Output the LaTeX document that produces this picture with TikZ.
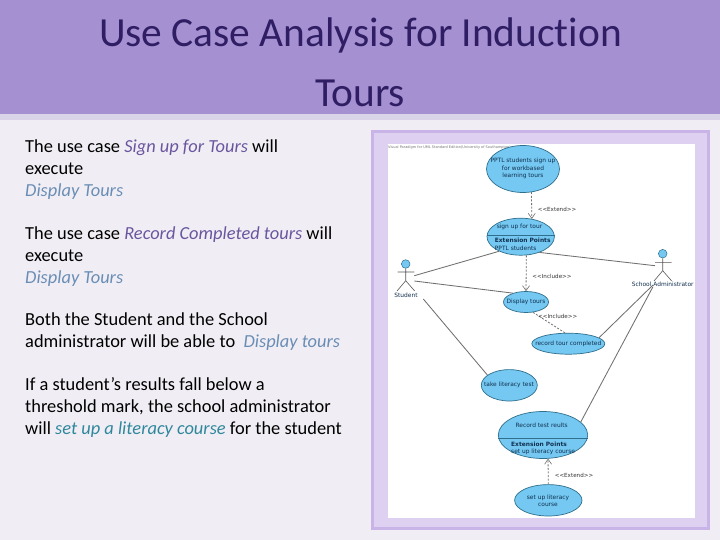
\documentclass[tikz,border=0pt]{standalone}
\usepackage{fontspec}
\setmainfont[Ligatures=NoCommon]{Carlito}
\newfontfamily\umlfont{DejaVu Sans}
\usetikzlibrary{shapes.geometric,arrows.meta}
\definecolor{pagebg}{HTML}{F0EEF4}
\definecolor{bandc}{HTML}{A591D2}
\definecolor{bandedge}{HTML}{DAD4E8}
\definecolor{titlec}{HTML}{2F1E64}
\definecolor{framefill}{HTML}{DDD0F0}
\definecolor{frameline}{HTML}{C8B4E6}
\definecolor{ucfill}{HTML}{74C8F2}
\definecolor{ucline}{HTML}{2F6F8C}
\definecolor{umltext}{HTML}{12304F}
\definecolor{linkc}{HTML}{707070}
\definecolor{purpc}{HTML}{6A569F}
\definecolor{bluec}{HTML}{6A8DB5}
\definecolor{tealc}{HTML}{2F879C}
\tikzset{
  titletext/.style={font=\fontsize{41.4}{41.4}\selectfont,text=titlec,inner sep=0pt},
  para/.style={anchor=north west,inner sep=0pt,align=left,text=black,font=\fontsize{18.4}{21.7}\selectfont},
  uc/.style={ellipse,draw=ucline,fill=ucfill,line width=.7pt,inner sep=0pt},
  umllabel/.style={font=\umlfont\fontsize{5.9}{7.3}\selectfont,text=umltext,inner sep=0pt,align=center},
  stereo/.style={font=\umlfont\fontsize{5.6}{7}\selectfont,text=black!80,inner sep=0pt},
  assoc/.style={draw=linkc,line width=.85pt},
  dep/.style={draw=linkc,line width=.8pt,dash pattern=on 2pt off 1.6pt},
  deptip/.style={dep,-{Straight Barb[length=5pt,width=7pt,line width=.6pt]}},
  actorline/.style={draw=black!65,line width=.6pt},
  divider/.style={draw=ucline,line width=.7pt}
}
\begin{document}
\begin{tikzpicture}[x=1pt,y=-1pt]
\useasboundingbox (0,0) rectangle (720,540);
\fill[pagebg] (0,0) rectangle (720,540);
\fill[bandedge] (0,112) rectangle (720,120);
\fill[bandc] (0,0) rectangle (720,114);
\node[titletext] (title1) at (360.5,35) {Use Case Analysis for Induction};
\node[titletext] (title2) at (360,93) {Tours};
\node[para] (p1) at (25,140) {The use case \textcolor{purpc}{\textit{Sign up for Tours}} will\\execute\\\textcolor{bluec}{\textit{Display Tours}}};
\node[para] (p2) at (25,227) {The use case \textcolor{purpc}{\textit{Record Completed tours}} will\\execute\\\textcolor{bluec}{\textit{Display Tours}}};
\node[para] (p3) at (25,313) {Both the Student and the School\\administrator will be able to \ \textcolor{bluec}{\textit{Display tours}}};
\node[para] (p4) at (25,377.5) {If a student’s results fall below a\\threshold mark, the school administrator\\will \textcolor{tealc}{\textit{set up a literacy course}} for the student};
% frame
\filldraw[fill=framefill,draw=frameline,line width=3pt] (372,132) rectangle (708,528);
\fill[white] (388,144) rectangle (695,518);
\node[anchor=west,inner sep=0pt,text=black!55,font=\umlfont\fontsize{3.5}{4}\selectfont] (wm) at (388,148) {Visual Paradigm for UML Standard Edition(University of Southampton)};
% use cases
\node[uc,minimum width=73pt,minimum height=47pt] (e1) at (523,169) {};
\node[uc,minimum width=67.4pt,minimum height=37pt] (e2) at (520.7,236.7) {};
\node[uc,minimum width=45pt,minimum height=21pt] (e3) at (526,302) {};
\node[uc,minimum width=73pt,minimum height=21pt] (e4) at (568.3,343.7) {};
\node[uc,minimum width=56pt,minimum height=31.4pt] (e5) at (509.3,385.3) {};
\node[uc,minimum width=89.4pt,minimum height=47pt] (e6) at (543,435) {};
\node[uc,minimum width=67.4pt,minimum height=31.4pt] (e7) at (548.3,500.3) {};
\coordinate (d2l) at (e2.west |- 0,235.3);
\coordinate (d2r) at (e2.east |- 0,235.3);
\draw[divider] (d2l) -- (d2r);
\coordinate (d6l) at (e6.west |- 0,438.3);
\coordinate (d6r) at (e6.east |- 0,438.3);
\draw[divider] (d6l) -- (d6r);
% use case texts
\node[umllabel] (t1) at (523,168.5) {PPTL students sign up\\for workbased\\learning tours};
\node[umllabel] (t2a) at (519.5,226.7) {sign up for tour};
\node[umllabel,anchor=west] (t2b) at (494.7,240.7) {\textbf{Extension Points}};
\node[umllabel,anchor=west] (t2c) at (494.7,248) {PPTL students};
\node[umllabel] (t3) at (526,302) {Display tours};
\node[umllabel] (t4) at (568.3,343.7) {record tour completed};
\node[umllabel] (t5) at (509,385.3) {take literacy test};
\node[umllabel] (t6a) at (541.7,425) {Record test reults};
\node[umllabel,anchor=west] (t6b) at (511,444.5) {\textbf{Extension Points}};
\node[umllabel,anchor=west] (t6c) at (511,451.8) {set up literacy course};
\node[umllabel] (t7) at (548,500.7) {set up literacy\\course};
% actors
\node[circle,draw=ucline,fill=ucfill,line width=.5pt,minimum size=8.6pt,inner sep=0pt] (studenthead) at (405.7,264) {};
\coordinate (studentneck) at (405.7,280.7);
\coordinate (studentla) at (397.7,272);
\coordinate (studentra) at (414.3,272);
\coordinate (studentll) at (397,291);
\coordinate (studentrl) at (414.7,291);
\draw[actorline] (studenthead) -- (studentneck) (studentla) -- (studentra) (studentll) -- (studentneck) -- (studentrl);
\node[umllabel] (student) at (406,295.3) {Student};
\node[circle,draw=ucline,fill=ucfill,line width=.5pt,minimum size=8.6pt,inner sep=0pt] (adminhead) at (662.7,253.7) {};
\coordinate (adminneck) at (662.7,270.7);
\coordinate (adminla) at (655,262.3);
\coordinate (adminra) at (671.7,262.3);
\coordinate (adminll) at (654,281);
\coordinate (adminrl) at (671.7,281);
\draw[actorline] (adminhead) -- (adminneck) (adminla) -- (adminra) (adminll) -- (adminneck) -- (adminrl);
\node[umllabel] (admin) at (662.7,284.5) {School Administrator};
% connectors
\coordinate (s1) at (414.3,275.7);
\coordinate (s2) at (414.3,281);
\coordinate (s3) at (423.3,299);
\coordinate (a1) at (655,265.7);
\coordinate (a2) at (653,285);
\coordinate (a3) at (653,286.7);
\draw[assoc] (s1) -- (e2.214);
\draw[assoc] (s2) -- (e3.146);
\draw[assoc] (s3) -- (e5.155);
\draw[assoc] (a1) -- (e2.320);
\draw[assoc] (a2) -- (e4.11);
\draw[assoc] (a3) -- (e6.19);
\draw[deptip] (e1.290) -- (e2.58);
\draw[deptip] (e2.287) -- (e3.north);
\draw[dep] (e3.304) -- (e4.107);
\draw[deptip] (e7.north) -- (e6.282);
\node[stereo] (x1) at (557,209.3) {<{}<Extend>{}>};
\node[stereo] (x2) at (552,276.7) {<{}<Include>{}>};
\node[stereo] (x3) at (557.7,316) {<{}<Include>{}>};
\node[stereo] (x4) at (574,475.3) {<{}<Extend>{}>};
\end{tikzpicture}
\end{document}
